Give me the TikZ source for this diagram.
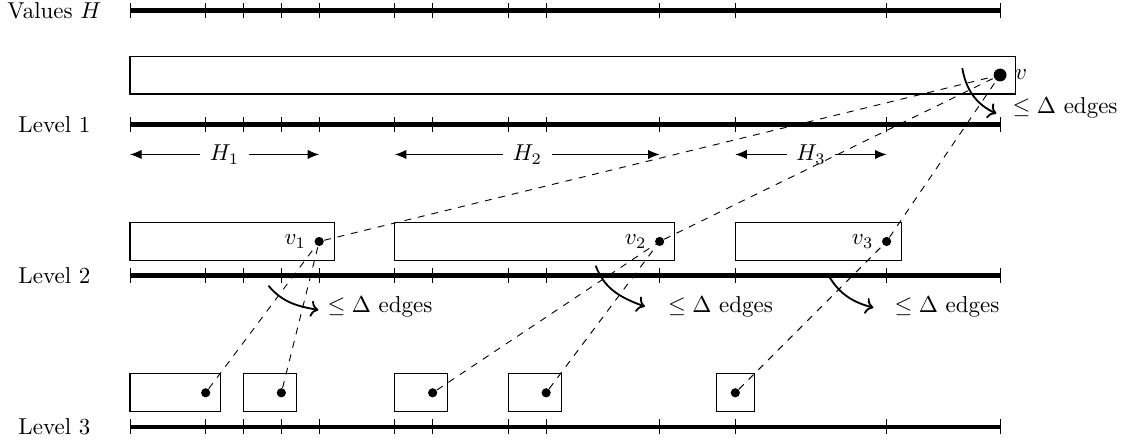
\documentclass[tikz,border=0pt]{standalone}
\usetikzlibrary{arrows.meta}
\begin{document}
\begin{tikzpicture}[x=16.45pt,y=16.45pt,
  axis/.style={line width=2pt},
  tickmark/.style={line width=0.4pt},
  boxr/.style={draw, line width=0.5pt},
  dot/.style={circle, fill, inner sep=0pt, minimum size=4pt},
  bigdot/.style={circle, fill, inner sep=0pt, minimum size=5.6pt},
  link/.style={dashed, line width=0.4pt},
  span/.style={-{Latex[length=5pt,width=4pt]}, line width=0.4pt},
  flow/.style={->, thick},
  hlab/.style={inner sep=4pt},
  elabel/.style={anchor=base west, inner sep=0pt}]
\useasboundingbox (-3.437,0.283) rectangle (26.46,-11.48);

% level lines with ticks
\foreach \y/\name/\txt in {0/lv0/Values $H$, -3/lv1/Level 1, -7/lv2/Level 2, -11/lv3/Level 3} {
  \node (\name) at (-2,\y) {\txt};
  \draw[axis] (0,\y) -- (23,\y);
  \foreach \t in {0,2,3,4,5,7,8,10,11,14,16,20,23}
    \draw[tickmark] (\t,\y-0.2) -- (\t,\y+0.2);
}

% boxes
\draw[boxr] (0,-1.2) rectangle (23.4,-2.2);
\draw[boxr] (0,-5.6) rectangle (5.4,-6.6);
\draw[boxr] (7,-5.6) rectangle (14.4,-6.6);
\draw[boxr] (16,-5.6) rectangle (20.4,-6.6);
\draw[boxr] (0,-9.6) rectangle (2.4,-10.6);
\draw[boxr] (3,-9.6) rectangle (4.4,-10.6);
\draw[boxr] (7,-9.6) rectangle (8.4,-10.6);
\draw[boxr] (10,-9.6) rectangle (11.4,-10.6);
\draw[boxr] (15.5,-9.6) rectangle (16.5,-10.6);

% dots
\node[bigdot, label={right:$v$}] (v) at (23,-1.7) {};
\node[dot, label={left:$v_1$}] (v1) at (5,-6.1) {};
\node[dot, label={left:$v_2$}] (v2) at (14,-6.1) {};
\node[dot, label={left:$v_3$}] (v3) at (20,-6.1) {};
\node[dot] (a) at (2,-10.1) {};
\node[dot] (b) at (4,-10.1) {};
\node[dot] (c) at (8,-10.1) {};
\node[dot] (d) at (11,-10.1) {};
\node[dot] (e) at (16,-10.1) {};

% H ranges
\node[hlab] (H1) at (2.5,-3.8) {$H_1$};
\node[hlab] (H2) at (10.5,-3.8) {$H_2$};
\node[hlab] (H3) at (18,-3.8) {$H_3$};
\coordinate (h1l) at (0,-3.8);  \coordinate (h1r) at (5,-3.8);
\coordinate (h2l) at (7,-3.8);  \coordinate (h2r) at (14,-3.8);
\coordinate (h3l) at (16,-3.8); \coordinate (h3r) at (20,-3.8);
\draw[span] (H1) -- (h1l); \draw[span] (H1) -- (h1r);
\draw[span] (H2) -- (h2l); \draw[span] (H2) -- (h2r);
\draw[span] (H3) -- (h3l); \draw[span] (H3) -- (h3r);

% dashed links
\draw[link] (v1) -- (v);
\draw[link] (v2) -- (v);
\draw[link] (v3) -- (v);
\draw[link] (a) -- (v1);
\draw[link] (b) -- (v1);
\draw[link] (c) -- (v2);
\draw[link] (d) -- (v2);
\draw[link] (e) -- (v3);

% degree arrows
\coordinate (f0s) at (22.0,-1.52);  \coordinate (f0e) at (22.9,-2.72);
\coordinate (f1s) at (3.66,-7.27);  \coordinate (f1e) at (4.98,-7.91);
\coordinate (f2s) at (12.31,-6.74); \coordinate (f2e) at (13.61,-7.82);
\coordinate (f3s) at (18.46,-6.99); \coordinate (f3e) at (19.65,-7.85);
\draw[flow] (f0s) to[out=-80,in=155] (f0e);
\draw[flow] (f1s) to[out=-50,in=170] (f1e);
\draw[flow] (f2s) to[out=-70,in=160] (f2e);
\draw[flow] (f3s) to[out=-60,in=165] (f3e);
\node[elabel] (e0) at (23.32,-2.71) {$\leq\Delta$ edges};
\node[elabel] (e1) at (5.21,-7.97) {$\leq\Delta$ edges};
\node[elabel] (e2) at (14.21,-7.97) {$\leq\Delta$ edges};
\node[elabel] (e3) at (20.2,-7.97) {$\leq\Delta$ edges};
\end{tikzpicture}
\end{document}
